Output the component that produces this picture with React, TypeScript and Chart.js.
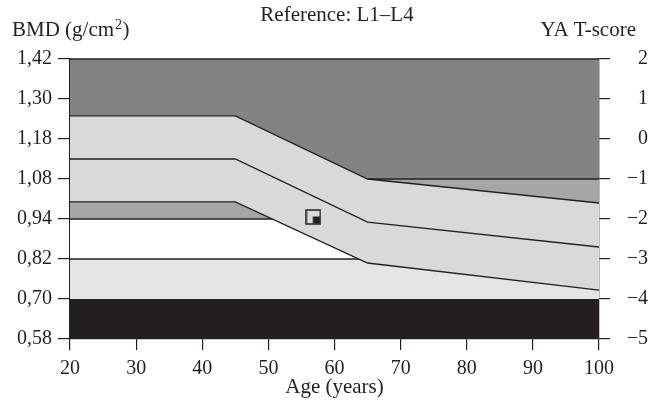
import React, { useEffect, useRef } from 'react';
import { Chart, registerables } from 'chart.js';

Chart.register(...registerables);

// ---- text ----
const TITLE = 'Reference: L1–L4';
const LEFT_TITLE_MAIN = 'BMD (g/cm';
const LEFT_TITLE_SUP = '2';
const LEFT_TITLE_END = ')';
const RIGHT_TITLE = 'YA T-score';
const X_TITLE = 'Age (years)';

// ---- tick labels ----
const T_SCORE_TICKS = [-5, -4, -3, -2, -1, 0, 1, 2];
const BMD_LABELS = ['0,58', '0,70', '0,82', '0,94', '1,08', '1,18', '1,30', '1,42'];
const T_LABELS = ['−5', '−4', '−3', '−2', '−1', '0', '1', '2'];

// ---- reference curves (T-score units) ----
const CURVE_AGES = [20, 45, 65, 100];
const UPPER = [0.58, 0.58, -1.0, -1.6];
const MEAN = [-0.5, -0.5, -2.08, -2.7];
const LOWER = [-1.57, -1.57, -3.1, -3.78];

// ---- background zones ----
const ZONE_EDGES = [2, -1, -2, -3, -4, -5];
const ZONE_COLORS = ['#838386', '#a6a6a8', '#ffffff', '#e5e5e6', '#231f20'];
const ZONE_LINES = [2, -1, -2, -3];

// ---- patient ----
const PATIENT_AGE = [56.8];
const PATIENT_T = [-1.95];

const AGE_MIN = 20;
const AGE_MAX = 100;
const INK = '#231f20';
const BAND = '#d9d9da';
const FONT_FAMILY = '"Liberation Serif", "Times New Roman", serif';

export default function App() {
  const ref = useRef<HTMLCanvasElement | null>(null);

  useEffect(() => {
    if (!ref.current) return;

    const marker = document.createElement('canvas');
    marker.width = 16;
    marker.height = 16;
    const g = marker.getContext('2d')!;
    g.strokeStyle = INK;
    g.lineWidth = 1.5;
    g.strokeRect(1, 1, 14, 14);
    g.fillStyle = INK;
    g.fillRect(7.5, 7.5, 7, 7);

    const datasets: any[] = [];
    for (let i = 0; i < ZONE_COLORS.length; i++) {
      datasets.push({
        data: [
          { x: AGE_MIN, y: ZONE_EDGES[i] },
          { x: AGE_MAX, y: ZONE_EDGES[i] },
        ],
        borderWidth: 0,
        pointRadius: 0,
        backgroundColor: ZONE_COLORS[i],
        fill: { value: ZONE_EDGES[i + 1] },
        order: 20,
      });
    }
    for (const v of ZONE_LINES) {
      datasets.push({
        data: [
          { x: AGE_MIN, y: v },
          { x: AGE_MAX, y: v },
        ],
        borderColor: INK,
        borderWidth: 1.5,
        pointRadius: 0,
        fill: false,
        clip: 3,
        order: 15,
      });
    }
    const bandIndex = datasets.length;
    const lowerIndex = bandIndex + 3;
    datasets.push({
      data: CURVE_AGES.map((a, i) => ({ x: a, y: UPPER[i] })),
      borderWidth: 0,
      pointRadius: 0,
      backgroundColor: BAND,
      fill: lowerIndex,
      order: 10,
    });
    for (const arr of [UPPER, MEAN, LOWER]) {
      datasets.push({
        data: CURVE_AGES.map((a, i) => ({ x: a, y: arr[i] })),
        borderColor: INK,
        borderWidth: 1.3,
        pointRadius: 0,
        fill: false,
        order: 5,
      });
    }
    datasets.push({
      data: PATIENT_AGE.map((a, i) => ({ x: a, y: PATIENT_T[i] })),
      pointStyle: marker,
      pointRadius: 8,
      showLine: false,
      fill: false,
      order: 1,
    });

    const tickFont = { family: FONT_FAMILY, size: 20 };

    const textPlugin = {
      id: 'texts',
      afterDraw(chart: any) {
        const ctx = chart.ctx;
        ctx.save();
        ctx.fillStyle = INK;
        ctx.font = `21px ${FONT_FAMILY}`;
        ctx.textBaseline = 'alphabetic';
        ctx.textAlign = 'center';
        ctx.fillText(TITLE, 337, 21);
        ctx.textAlign = 'left';
        let x = 12;
        ctx.fillText(LEFT_TITLE_MAIN, x, 36);
        x += ctx.measureText(LEFT_TITLE_MAIN).width + 1;
        ctx.font = `14px ${FONT_FAMILY}`;
        ctx.fillText(LEFT_TITLE_SUP, x, 29);
        x += ctx.measureText(LEFT_TITLE_SUP).width + 0.5;
        ctx.font = `21px ${FONT_FAMILY}`;
        ctx.fillText(LEFT_TITLE_END, x, 36);
        ctx.textAlign = 'right';
        ctx.fillText(RIGHT_TITLE, 636, 36);
        ctx.restore();
      },
    };

    const chart = new Chart(ref.current, {
      type: 'line',
      data: { datasets },
      options: {
        responsive: false,
        animation: false,
        parsing: false as any,
        layout: { padding: { top: 59, left: 0, right: 0, bottom: 0 } },
        plugins: {
          legend: { display: false },
          tooltip: { enabled: false },
          title: { display: false },
        },
        scales: {
          x: {
            type: 'linear',
            min: AGE_MIN,
            max: AGE_MAX,
            ticks: { stepSize: 10, font: tickFont, color: INK, padding: 7, maxRotation: 0 },
            grid: { drawOnChartArea: false, drawTicks: true, tickLength: 11, color: INK, lineWidth: 1.2 },
            border: { display: true, color: INK, width: 1.2 },
            title: {
              display: true,
              text: X_TITLE,
              font: { family: FONT_FAMILY, size: 21 },
              color: INK,
              padding: { top: 0, bottom: 7 },
            },
            afterFit: (s: any) => {
              s.height = 68;
            },
          },
          y: {
            type: 'linear',
            position: 'left',
            min: -5,
            max: 2,
            ticks: {
              stepSize: 1,
              font: tickFont,
              color: INK,
              padding: 6,
              callback: (v: any) => {
                const i = T_SCORE_TICKS.indexOf(Number(v));
                return i >= 0 ? BMD_LABELS[i] : '';
              },
            },
            grid: { drawOnChartArea: false, drawTicks: true, tickLength: 12, color: INK, lineWidth: 1.2 },
            border: { display: true, color: INK, width: 1.3 },
            afterFit: (s: any) => {
              s.width = 70;
            },
          },
          y2: {
            type: 'linear',
            position: 'right',
            min: -5,
            max: 2,
            ticks: {
              stepSize: 1,
              font: tickFont,
              color: INK,
              padding: 7,
              crossAlign: 'far',
              callback: (v: any) => {
                const i = T_SCORE_TICKS.indexOf(Number(v));
                return i >= 0 ? T_LABELS[i] : '';
              },
            },
            grid: { drawOnChartArea: false, drawTicks: true, tickLength: 11, color: INK, lineWidth: 1.2 },
            border: { display: true, color: INK, width: 1.3 },
            afterFit: (s: any) => {
              s.width = 49;
            },
          },
        },
      },
      plugins: [textPlugin],
    });

    return () => chart.destroy();
  }, []);

  return (
    <div style={{ position: 'fixed', left: 0, top: 0, width: 648, height: 407, background: '#ffffff' }}>
      <canvas ref={ref} width={648} height={407} style={{ display: 'block', width: 648, height: 407 }} />
    </div>
  );
}
